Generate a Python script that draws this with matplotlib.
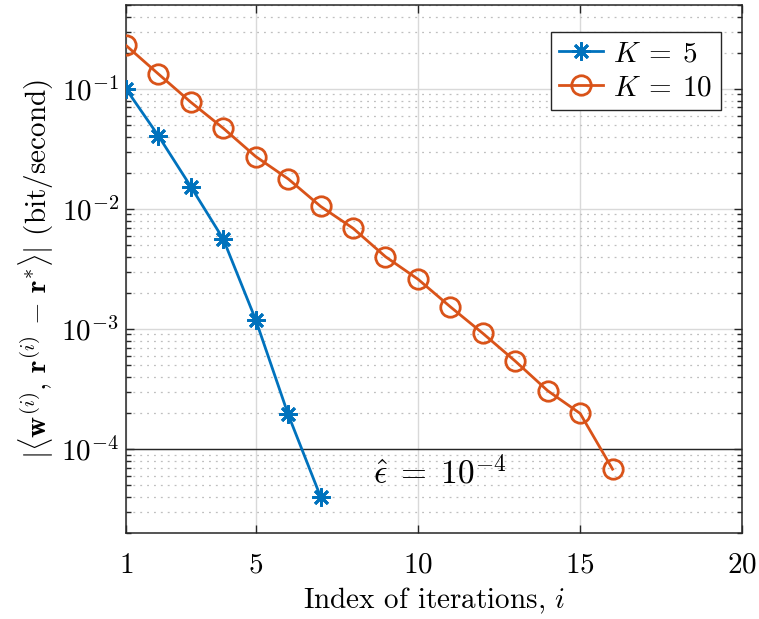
import numpy as np
import matplotlib
matplotlib.use("Agg")
import matplotlib.pyplot as plt
from matplotlib.ticker import LogLocator, NullFormatter

plt.rcParams['font.family'] = 'serif'
plt.rcParams['font.serif'] = ['cmr10']
plt.rcParams['mathtext.fontset'] = 'cm'
plt.rcParams['axes.formatter.use_mathtext'] = True

# data
iters_k5 = [1, 2, 3, 4, 5, 6, 7]
gap_k5 = [0.1, 0.0406, 0.0153, 0.0056, 0.00119, 0.000194, 4.0e-5]

iters_k10 = list(range(1, 17))
gap_k10 = [0.23, 0.133, 0.0774, 0.047, 0.0273, 0.0178, 0.0105, 0.0069,
           0.0040, 0.0026, 0.00153, 0.00092, 0.00054, 0.000306, 0.000198, 6.8e-5]

eps_hat = 1e-4
x_ticks = [1, 5, 10, 15, 20]

blue = '#0072BD'
orange = '#D95319'

fig = plt.figure(figsize=(7.59, 6.19), dpi=100)
ax = fig.add_axes([0.166, 0.139, 0.812, 0.853])

ax.set_yscale('log')
ax.set_xlim(1, 20)
ax.set_ylim(2e-5, 0.5)

ax.axhline(eps_hat, color='#262626', lw=1.0, zorder=2)

ax.plot(iters_k5, gap_k5, color=blue, lw=2, marker=(8, 2, 0), ms=13,
        mew=2, label=r'$K\:=\:5$', zorder=3)
ax.plot(iters_k10, gap_k10, color=orange, lw=2, marker='o', ms=14,
        mfc='none', mew=2, label=r'$K\:=\:10$', zorder=3)

ax.text(8.62, 6.4e-5, r'$\hat{\epsilon}\;=\;10^{-4}$', fontsize=24, va='center', ha='left')

ax.set_xticks(x_ticks)
ax.yaxis.set_major_locator(LogLocator(base=10, numticks=10))
ax.yaxis.set_minor_locator(LogLocator(base=10, subs=np.arange(2, 10), numticks=20))
ax.yaxis.set_minor_formatter(NullFormatter())

ax.grid(True, which='major', color='#d9d9d9', lw=1.0, zorder=0)
ax.grid(True, which='minor', axis='y', color='#bfbfbf', lw=0.9,
        linestyle=(0, (1.5, 4)), zorder=0)

ax.tick_params(which='both', direction='in', top=True, right=True,
               labelsize=21, width=1, colors='#262626')
ax.tick_params(which='major', length=6)
ax.tick_params(which='minor', length=3.5)
ax.tick_params(axis='x', which='minor', top=False, bottom=False)
for lab in ax.get_xticklabels() + ax.get_yticklabels():
    lab.set_color('black')
ax.tick_params(axis='x', pad=14)
ax.tick_params(axis='y', pad=5)
for s in ax.spines.values():
    s.set_color('#262626')
    s.set_linewidth(1.1)

ax.set_xlabel(r'Index of iterations, $i$', fontsize=21, labelpad=5)
ax.set_ylabel(r'$|\langle \mathbf{w}^{(i)},\, \mathbf{r}^{(i)} \,-\, \mathbf{r}^{*}\rangle|$ (bit/second)',
              fontsize=21, labelpad=4)

leg = ax.legend(loc='upper right', bbox_to_anchor=(0.98, 0.965), fontsize=21,
                fancybox=False, framealpha=1, edgecolor='#262626',
                handlelength=1.5, borderpad=0.3, labelspacing=0.25, handletextpad=0.35,
                borderaxespad=0.3)
leg.get_frame().set_linewidth(1.0)

fig.savefig('out.png', dpi=100)
